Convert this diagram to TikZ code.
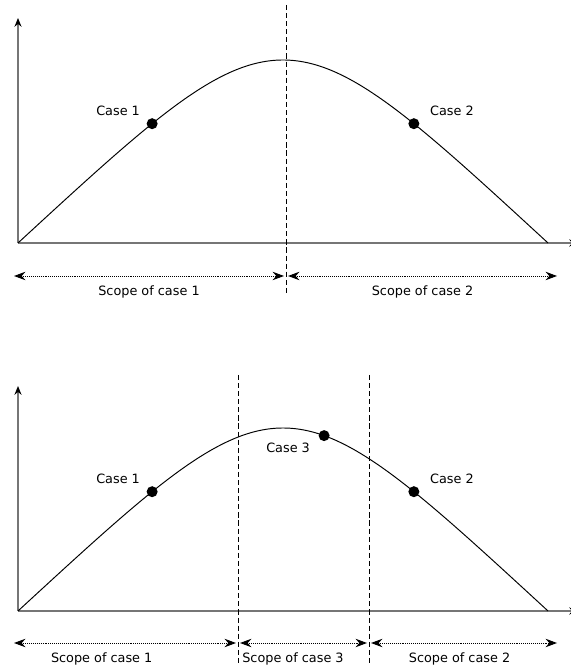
\documentclass[tikz,border=0pt]{standalone}
\usepackage{fontspec}
\setsansfont{DejaVu Sans}
\usetikzlibrary{arrows.meta,positioning}
\definecolor{axisgray}{RGB}{118,118,118}
\tikzset{
  every picture/.style={line join=round},
  every node/.style={font=\sffamily\fontsize{7.3}{8.8}\selectfont},
  % Achsen und Kurve
  axis/.style={axisgray, line width=1.1pt, -{Stealth[length=5pt,width=4pt,color=black]}},
  curve/.style={black, line width=0.55pt},
  % Grenzen der Bereiche
  cut/.style={black, line width=0.55pt, dash pattern=on 2.9pt off 1.7pt},
  span/.style={black, line width=0.55pt, dash pattern=on 0.55pt off 0.55pt,
    {Stealth[length=6.5pt,width=4.8pt]}-{Stealth[length=6.5pt,width=4.8pt]}},
  dot/.style={circle, fill=black, inner sep=0pt, minimum size=0.22cm},
}
\begin{document}
\begin{tikzpicture}
  \useasboundingbox (0,0) rectangle (11.4,13.32);
  % oben: zwei Fälle
  \begin{scope}[shift={(0.36,8.46)}]
    \draw[axis] (0,0) -- (0,4.5);
    \draw[axis] (0,0) -- (11.2,0);
    \draw[curve] (0,0) .. controls (5.3,4.88) and (5.3,4.88) .. (10.6,0)
      node[dot, pos=0.205] (c1) {}
      node[dot, pos=0.795] (c2) {};
    \node[anchor=south east] (l1) at ([shift={(-0.12,0.04)}]c1.center) {Case 1};
    \node[anchor=south west] (l2) at ([shift={(0.2,0.04)}]c2.center) {Case 2};
    \draw[cut] (5.36,4.76) -- (5.36,-1.0);
    \draw[span] (-0.08,-0.66) -- node[below=0.06cm] (s1) {Scope of case 1} (5.32,-0.66);
    \draw[span] (5.40,-0.66) -- node[below=0.06cm] (s2) {Scope of case 2} (10.78,-0.66);
  \end{scope}
  % unten: drei Fälle
  \begin{scope}[shift={(0.36,1.10)}]
    \draw[axis] (0,0) -- (0,4.5);
    \draw[axis] (0,0) -- (11.2,0);
    \draw[curve] (0,0) .. controls (5.3,4.88) and (5.3,4.88) .. (10.6,0)
      node[dot, pos=0.205] (c1) {}
      node[dot, pos=0.602] (c3) {}
      node[dot, pos=0.795] (c2) {};
    \node[anchor=south east] (l1) at ([shift={(-0.12,0.04)}]c1.center) {Case 1};
    \node[anchor=north east] (l3) at ([shift={(-0.16,-0.02)}]c3.center) {Case 3};
    \node[anchor=south west] (l2) at ([shift={(0.2,0.04)}]c2.center) {Case 2};
    \draw[cut] (4.4,4.72) -- (4.4,-1.2);
    \draw[cut] (7.02,4.72) -- (7.02,-1.2);
    \draw[span] (-0.08,-0.64) -- node[below=0.06cm, pos=0.395] (s1) {Scope of case 1} (4.36,-0.64);
    \draw[span] (4.44,-0.64) -- node[below=0.06cm, pos=0.417] (s3) {Scope of case 3} (6.98,-0.64);
    \draw[span] (7.06,-0.64) -- node[below=0.06cm, pos=0.476] (s2) {Scope of case 2} (10.78,-0.64);
  \end{scope}
\end{tikzpicture}
\end{document}
